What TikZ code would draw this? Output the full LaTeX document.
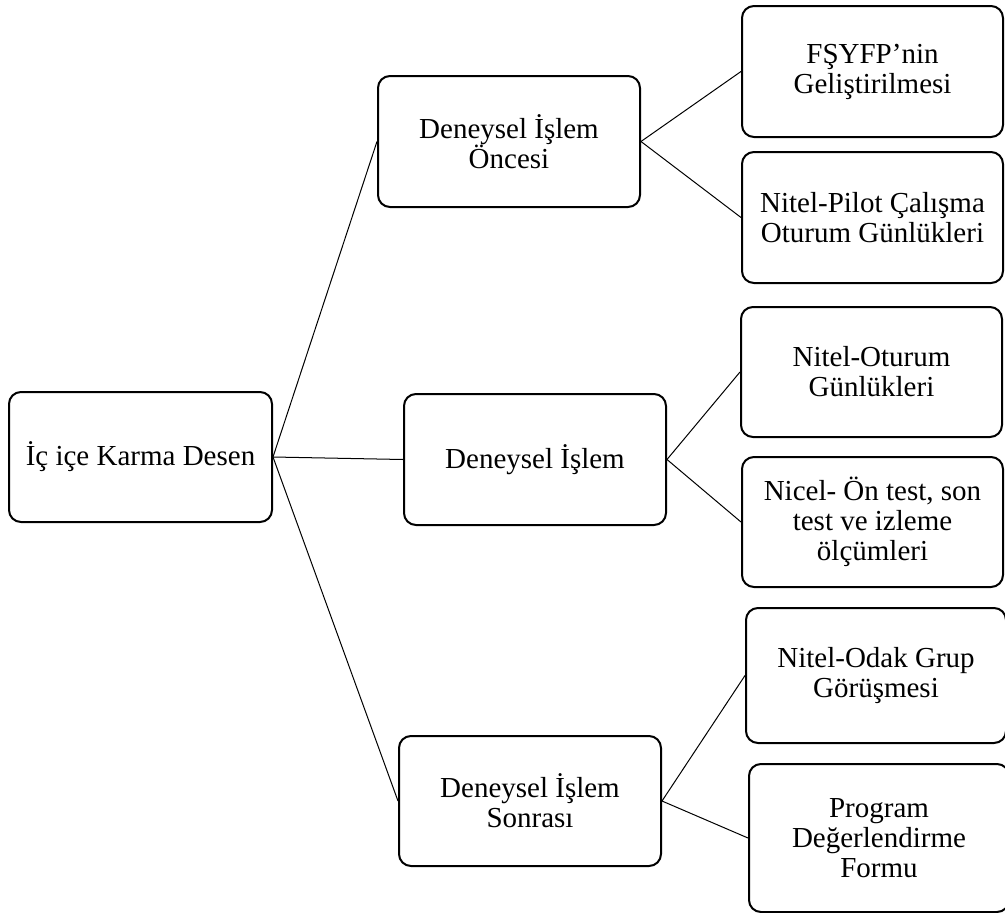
\documentclass[tikz,border=0pt]{standalone}
\usepackage{fontspec}
\setmainfont{Liberation Serif}

\tikzset{
    stage/.style={draw,line width=2pt,rounded corners=12pt,align=center,
        inner sep=0pt,minimum width=262pt,minimum height=131pt,
        font=\fontsize{29}{30}\selectfont},
    link/.style={draw,line width=1pt}
}

\begin{document}
\begin{tikzpicture}[x=1pt,y=-1pt]
    \useasboundingbox (0,0) rectangle (1005,913);
    % root and the three stages
    \node[stage,minimum width=263pt,minimum height=130pt] (desen) at (140.5,457) {İç içe Karma Desen};
    \node[stage] (once) at (509,141.5) {Deneysel İşlem\\Öncesi};
    \node[stage] (islem) at (535,459.5) {Deneysel İşlem};
    \node[stage,minimum height=130pt] (sonra) at (530,801) {Deneysel İşlem\\Sonrası};
    % leaves
    \node[stage,minimum width=261pt] (fsyfp) at (872.5,71.5) {FŞYFP’nin\\Geliştirilmesi};
    \node[stage,minimum width=261pt] (pilot) at (872.5,217.5) {Nitel-Pilot Çalışma\\Oturum Günlükleri};
    \node[stage,minimum width=261pt,minimum height=130pt] (oturum) at (871.5,372) {Nitel-Oturum\\Günlükleri};
    \node[stage,minimum width=261pt,minimum height=130pt] (nicel) at (872.5,522) {Nicel- Ön test, son\\test ve izleme\\ölçümleri};
    \node[stage,minimum width=260pt,minimum height=135pt] (odak) at (876,675.5) {Nitel-Odak Grup\\Görüşmesi};
    \node[stage,minimum width=260pt,minimum height=148pt] (form) at (879,838) {Program\\Değerlendirme\\Formu};
    % connectors
    \foreach \s in {once,islem,sonra}
        \draw[link] (desen.east) -- (\s.west);
    \draw[link] (once.east) -- (fsyfp.west);
    \draw[link] (once.east) -- (pilot.west);
    \draw[link] (islem.east) -- (oturum.west);
    \draw[link] (islem.east) -- (nicel.west);
    \draw[link] (sonra.east) -- (odak.west);
    \draw[link] (sonra.east) -- (form.west);
\end{tikzpicture}
\end{document}
